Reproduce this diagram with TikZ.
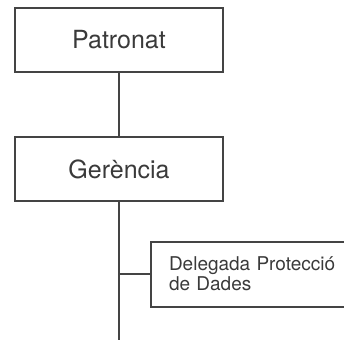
\documentclass[tikz,border=0pt]{standalone}
\usepackage{fontspec}
\setmainfont{TeX Gyre Heros}
\usepackage{tikz}

\definecolor{linegray}{HTML}{444444}
\definecolor{textgray}{HTML}{3A3A3A}

\begin{document}
\begin{tikzpicture}[x=1pt, y=-1pt, line width=2pt,
  orgbox/.style={draw=linegray, text=textgray, minimum width=208pt, minimum height=64pt, inner sep=0pt, font=\fontsize{25}{28}\selectfont},
  subbox/.style={draw=linegray, text=textgray, anchor=west, text width=190pt, inner xsep=18pt, inner ysep=0pt, minimum height=65pt, align=left, font=\fontsize{19}{20}\selectfont}]
\clip (0,0) rectangle (344,344);
\node[orgbox] (PAT) at (119,40) {Patronat};
\node[orgbox] (GER) at (119,169) {Gerència};
\node[subbox] (DPD) at (150,274) {Delegada Protecció\\de Dades};
\coordinate (END) at (119,340);
\draw [linegray] (PAT) -- (GER);
\draw [linegray] (GER) -- (END);
\draw [linegray] (DPD.west) -- (DPD.west -| END);
\end{tikzpicture}
\end{document}
